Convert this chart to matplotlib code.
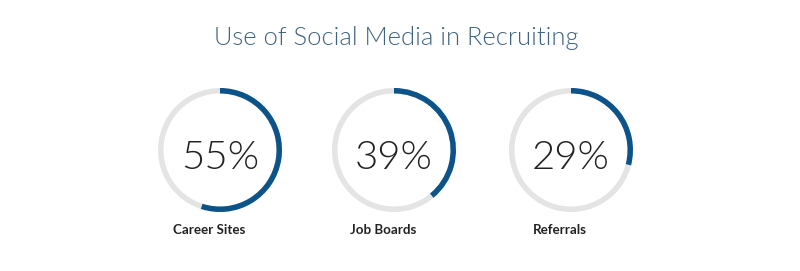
import matplotlib
matplotlib.use("Agg")
import matplotlib.pyplot as plt
from matplotlib.patches import Wedge

# data
labels = ["Career Sites", "Job Boards", "Referrals"]
values = [55, 39, 29]
title = "Use of Social Media in Recruiting"

blue = "#0b5389"
gray = "#e4e4e4"

fig = plt.figure(figsize=(8, 2.71), dpi=100)
ax = fig.add_axes([0, 0, 1, 1])
ax.set_xlim(0, 800)
ax.set_ylim(0, 271)
ax.set_aspect("equal")
ax.axis("off")

centers = [220, 394, 571]
cy = 271 - 150
r = 62
w = 5.5

for cx, v, lab in zip(centers, values, labels):
    ax.add_patch(Wedge((cx, cy), r, 0, 360, width=w, color=gray, lw=0))
    ax.add_patch(Wedge((cx, cy), r, 90 - v * 3.6, 90, width=w, color=blue, lw=0))
    ax.text(cx, 271 - 158, f"{v}%", ha="center", va="center", fontsize=29,
            family="Lato", weight=300, color="#222222")
    ax.text(cx - 11, 271 - 230, lab, ha="center", va="center", fontsize=9.6,
            family="Lato", weight="bold", color="#222222")

ax.text(396, 271 - 38, title, ha="center", va="center", fontsize=18.4,
        family="Lato", weight=300, color="#3f6480")

fig.savefig("out.png", dpi=100)
